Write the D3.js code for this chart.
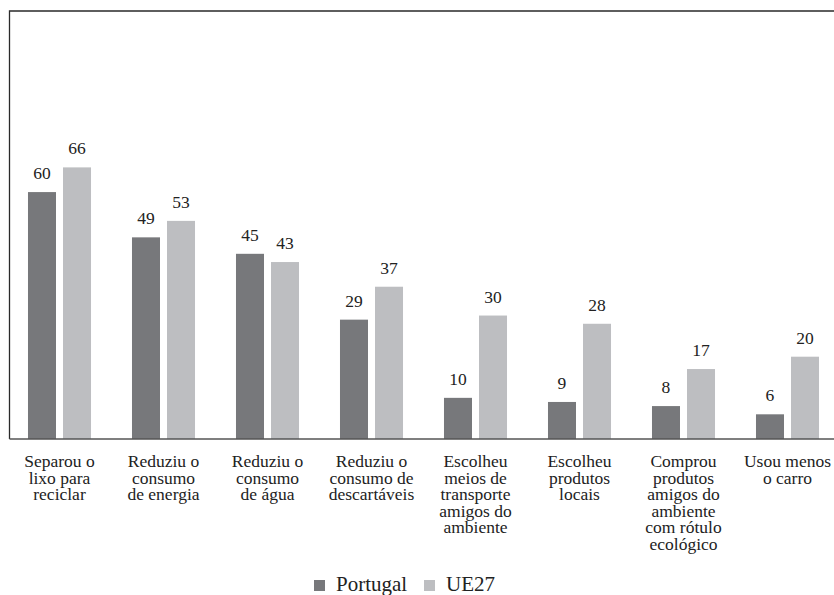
<!DOCTYPE html>
<html>
<head>
<meta charset="utf-8">
<script src="https://cdn.jsdelivr.net/npm/d3@7"></script>
<style>
  html, body { margin: 0; padding: 0; background: #fff; }
  svg { display: block; }
</style>
</head>
<body>
<svg id="chart" width="834" height="595"></svg>
<script>
const categories = [
  ["Separou o", "lixo para", "reciclar"],
  ["Reduziu o", "consumo", "de energia"],
  ["Reduziu o", "consumo", "de água"],
  ["Reduziu o", "consumo de", "descartáveis"],
  ["Escolheu", "meios de", "transporte", "amigos do", "ambiente"],
  ["Escolheu", "produtos", "locais"],
  ["Comprou", "produtos", "amigos do", "ambiente", "com rótulo", "ecológico"],
  ["Usou menos", "o carro"]
];
const seriesNames = ["Portugal", "UE27"];
const portugal = [60, 49, 45, 29, 10, 9, 8, 6];
const ue27 = [66, 53, 43, 37, 30, 28, 17, 20];
const colors = ["#77787b", "#bdbec1"];

const FONT = "'Liberation Serif', 'Times New Roman', 'DejaVu Serif', serif";
const svg = d3.select("#chart").attr("font-family", FONT);
const W = 834;
const frameLeft = 9.5, frameTop = 11, baseY = 439;

const keys = categories.map((c, i) => "c" + i);
const x0 = d3.scaleBand().domain(keys).range([7.5, 839.5]).paddingInner(0.394).paddingOuter(0.197);
const x1 = d3.scaleBand().domain(seriesNames).range([0, x0.bandwidth()]).paddingInner(0.2);
const y = d3.scaleLinear().domain([0, 104]).range([baseY, frameTop]);

const data = keys.map((k, i) => ({ key: k, lines: categories[i], values: [portugal[i], ue27[i]] }));

// bars
const g = svg.append("g");
const groups = g.selectAll("g.grp").data(data).join("g")
  .attr("transform", d => `translate(${x0(d.key)},0)`);
groups.selectAll("rect").data(d => d.values.map((v, j) => ({ s: seriesNames[j], v, j })))
  .join("rect")
  .attr("x", d => x1(d.s))
  .attr("width", x1.bandwidth())
  .attr("y", d => y(d.v))
  .attr("height", d => baseY - y(d.v))
  .attr("fill", d => colors[d.j]);
groups.selectAll("text.val").data(d => d.values.map((v, j) => ({ s: seriesNames[j], v, j })))
  .join("text").attr("class", "val")
  .attr("x", d => x1(d.s) + x1.bandwidth() / 2)
  .attr("y", d => y(d.v) - 13)
  .attr("text-anchor", "middle")
  .attr("font-family", FONT)
  .attr("fill", "#222")
  .attr("font-size", 17.5)
  .text(d => d.v);

// frame
svg.append("path")
  .attr("d", `M${frameLeft},${baseY} V${frameTop} H${W}`)
  .attr("fill", "none").attr("stroke", "#2a2a2a").attr("stroke-width", 1.3);
// axis line
svg.append("line")
  .attr("x1", frameLeft).attr("x2", W).attr("y1", baseY).attr("y2", baseY)
  .attr("stroke", "#555").attr("stroke-width", 1.3);

// category labels
const lab = svg.append("g");
data.forEach(d => {
  const cx = x0(d.key) + x0.bandwidth() / 2;
  const t = lab.append("text")
    .attr("x", cx)
    .attr("y", 467)
    .attr("text-anchor", "middle")
    .attr("font-family", FONT)
    .attr("fill", "#222")
    .attr("font-size", 17.5);
  d.lines.forEach((ln, i) => {
    t.append("tspan").attr("x", cx).attr("dy", i === 0 ? 0 : 16.5).text(ln);
  });
});

// legend
const legendItems = [
  { name: seriesNames[0], color: colors[0], x: 314 },
  { name: seriesNames[1], color: colors[1], x: 424 }
];
const leg = svg.append("g");
legendItems.forEach(it => {
  leg.append("rect").attr("x", it.x).attr("y", 580).attr("width", 11).attr("height", 11).attr("fill", it.color);
  leg.append("text").attr("x", it.x + 22).attr("y", 591).attr("font-size", 21)
    .attr("font-family", FONT).attr("fill", "#222").text(it.name);
});
</script>
</body>
</html>
